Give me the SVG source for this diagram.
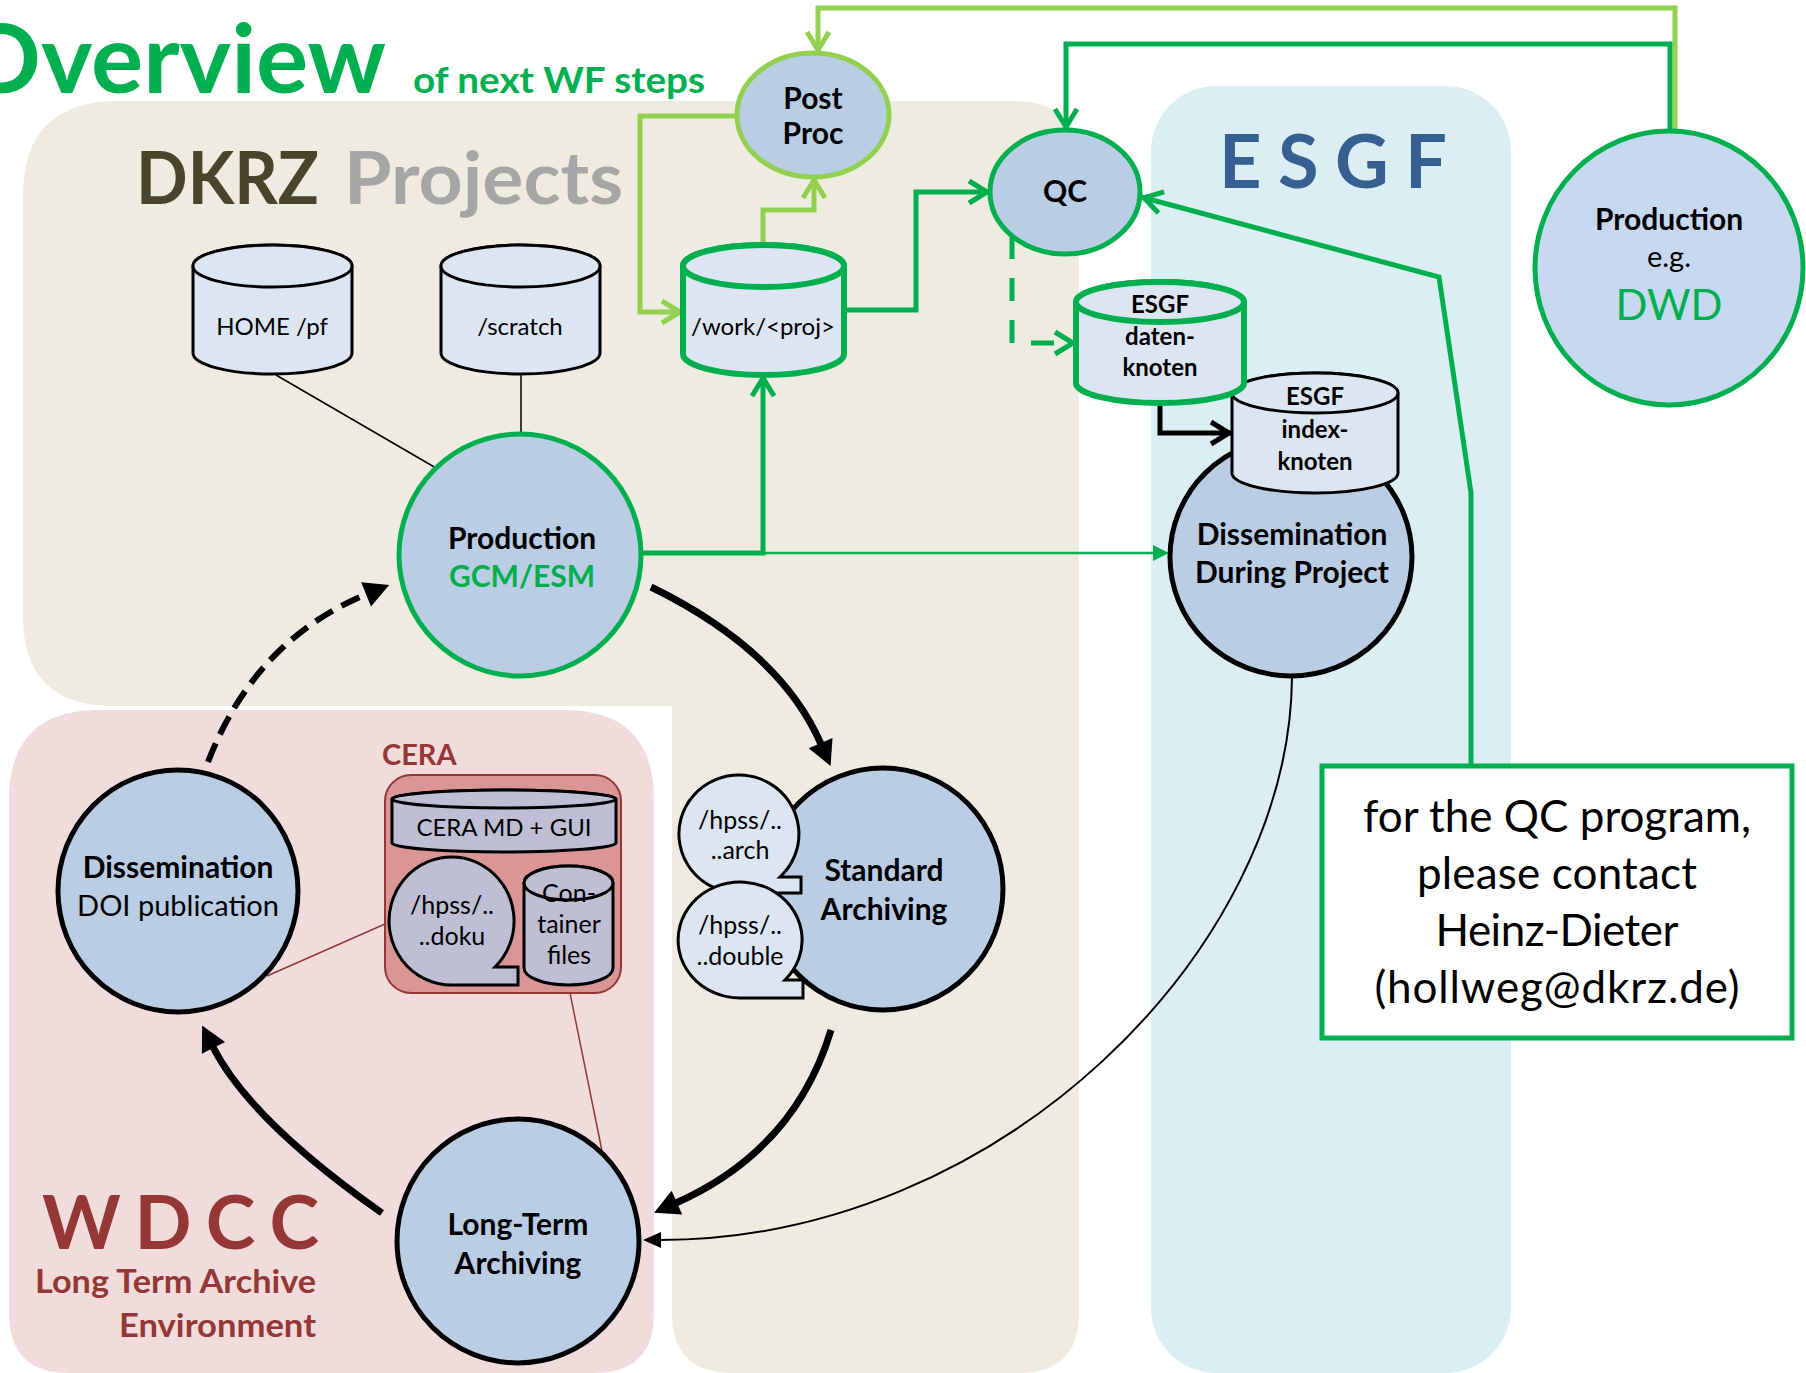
<svg xmlns="http://www.w3.org/2000/svg" width="1806" height="1373" viewBox="0 0 1806 1373">
<defs>
<style>
text{font-family:Lato,"Liberation Sans",sans-serif;}
.b{font-weight:bold;}
.c{text-anchor:middle;}
.lbl{font-size:30px;font-weight:bold;fill:#000;text-anchor:middle;}
.cyl{font-size:24px;fill:#000;text-anchor:middle;}
.hp{font-size:25px;fill:#000;text-anchor:middle;}
.node{fill:#B9CDE5;stroke-width:5;}
.gs{stroke:#00B050;}
.lgs{stroke:#92D050;}
.ks{stroke:#000;}
.cylf{fill:#DCE6F2;stroke:#000;stroke-width:3;}
.cylg{fill:#DCE6F2;stroke:#00B050;stroke-width:6;}
.bub{fill:#DCE6F2;stroke:#000;stroke-width:3;}
.cera{fill:#BEBFD4;stroke:#000;stroke-width:3;}
.red{fill:#953735;}
.info{font-size:44px;fill:#000;text-anchor:middle;}
</style>
<marker id="chevG" viewBox="-24 -16 32 32" refX="3" refY="0" markerWidth="32" markerHeight="32" markerUnits="userSpaceOnUse" orient="auto"><path d="M-18,-11 L0,0 L-18,11" fill="none" stroke="#00B050" stroke-width="5"/></marker>
<marker id="chevLG" viewBox="-24 -16 32 32" refX="3" refY="0" markerWidth="32" markerHeight="32" markerUnits="userSpaceOnUse" orient="auto"><path d="M-18,-11 L0,0 L-18,11" fill="none" stroke="#92D050" stroke-width="5"/></marker>
<marker id="chevK" viewBox="-24 -16 32 32" refX="3" refY="0" markerWidth="32" markerHeight="32" markerUnits="userSpaceOnUse" orient="auto"><path d="M-18,-11 L0,0 L-18,11" fill="none" stroke="#000" stroke-width="5"/></marker>
<marker id="triG" viewBox="-2 -10 20 20" refX="1" refY="0" markerWidth="20" markerHeight="20" markerUnits="userSpaceOnUse" orient="auto"><path d="M0,-8 L16,0 L0,8 Z" fill="#00B050"/></marker>
<marker id="triK" viewBox="-2 -16 30 32" refX="1" refY="0" markerWidth="30" markerHeight="32" markerUnits="userSpaceOnUse" orient="auto"><path d="M0,-13 L25,0 L0,13 Z" fill="#000"/></marker>
<marker id="triKs" viewBox="-2 -10 22 20" refX="1" refY="0" markerWidth="22" markerHeight="20" markerUnits="userSpaceOnUse" orient="auto"><path d="M0,-8 L18,0 L0,8 Z" fill="#000"/></marker>
</defs>

<!-- background regions -->
<g id="regions">
<path id="dkrz-region" d="M23,196 Q23,101 118,101 L1014,101 Q1079,101 1079,166 L1079,1313 Q1079,1373 1019,1373 L732,1373 Q672,1373 672,1313 L672,706 L113,706 Q23,706 23,616 Z" fill="#EEECE1"/>
<path id="wdcc-region" d="M9,800 Q9,710 99,710 L564,710 Q654,710 654,800 L654,1313 Q654,1373 594,1373 L69,1373 Q9,1373 9,1313 Z" fill="#F2DCDB"/>
<rect id="esgf-region" x="1151" y="86" width="360" height="1287" rx="65" ry="65" fill="#DBEEF3"/>
</g>

<!-- titles -->
<g id="titles">
<text x="-38" y="93" font-size="96" class="b" fill="#00B050" textLength="424" lengthAdjust="spacingAndGlyphs">Overview</text>
<text x="413" y="93" font-size="36" class="b" fill="#00B050" textLength="292" lengthAdjust="spacingAndGlyphs">of next WF steps</text>
<text x="136" y="204" font-size="72" class="b" fill="#4A452A" textLength="183" lengthAdjust="spacingAndGlyphs">DKRZ</text>
<text x="344" y="204" font-size="72" class="b" fill="#A6A6A6" textLength="279" lengthAdjust="spacingAndGlyphs">Projects</text>
<text x="1219" y="188" font-size="74" class="b" fill="#376092" textLength="228">E S G F</text>
<text x="42" y="1249" font-size="75" class="b red" textLength="277">W D C C</text>
<text x="316" y="1293" font-size="32" class="b red" text-anchor="end" textLength="281" lengthAdjust="spacingAndGlyphs">Long Term Archive</text>
<text x="316" y="1337" font-size="32" class="b red" text-anchor="end" textLength="197" lengthAdjust="spacingAndGlyphs">Environment</text>
<text x="382" y="765" font-size="29" class="b red">CERA</text>
</g>

<!-- connectors -->
<g id="connectors" fill="none">
<path d="M1675,131 L1675,8 L818,8 L818,53" stroke="#92D050" stroke-width="5" marker-end="url(#chevLG)"/>
<path d="M1670,131 L1670,44 L1066,44 L1066,130" stroke="#00B050" stroke-width="5" marker-end="url(#chevG)"/>
<path d="M737,116 L640,116 L640,312 L683,312" stroke="#92D050" stroke-width="5" marker-end="url(#chevLG)"/>
<path d="M763,245 L763,210 L814,210 L814,177" stroke="#92D050" stroke-width="5" marker-end="url(#chevLG)"/>
<path d="M844,310 L916,310 L916,192 L990,192" stroke="#00B050" stroke-width="5" marker-end="url(#chevG)"/>
<path d="M642,553 L763,553 L763,375" stroke="#00B050" stroke-width="5" marker-end="url(#chevG)"/>
<path d="M763,553 L1154,553" stroke="#00B050" stroke-width="2.5" marker-end="url(#triG)"/>
<path d="M1012,236 L1012,343 L1076,343" stroke="#00B050" stroke-width="5" stroke-dasharray="23 19" marker-end="url(#chevG)"/>
<path d="M1471,766 L1471,493 L1439,277 L1141,197" stroke="#00B050" stroke-width="5" marker-end="url(#chevG)"/>
<path d="M1160,403 L1160,433 L1232,433" stroke="#000" stroke-width="5" marker-end="url(#chevK)"/>
<path d="M276,375 L436,468" stroke="#000" stroke-width="1.5"/>
<path d="M521,375 L521,433" stroke="#000" stroke-width="1.5"/>
<path d="M267,976 L385,924" stroke="#953735" stroke-width="1.5"/>
<path d="M570,993 L602,1151" stroke="#953735" stroke-width="1.5"/>
<path d="M651,587 Q780,650 821,744" stroke="#000" stroke-width="7" marker-end="url(#triK)"/>
<path d="M831,1030 Q795,1150 676,1203" stroke="#000" stroke-width="7" marker-end="url(#triK)"/>
<path d="M382,1213 Q250,1120 213,1047" stroke="#000" stroke-width="7" marker-end="url(#triK)"/>
<path d="M208,762 Q255,640 367,594" stroke="#000" stroke-width="6" stroke-dasharray="20 10" marker-end="url(#triK)"/>
<path d="M1292,677 C1290,950 1000,1240 660,1240" stroke="#000" stroke-width="2" marker-end="url(#triKs)"/>
</g>

<!-- nodes -->
<g id="home-pf">
<path class="cylf" d="M193,266 A79.5,21 0 0 1 352,266 L352,353 A79.5,21 0 0 1 193,353 Z"/>
<ellipse class="cylf" cx="272.5" cy="266" rx="79.5" ry="21"/>
<text class="cyl" x="272" y="335">HOME /pf</text>
</g>
<g id="scratch">
<path class="cylf" d="M441,266 A79.5,21 0 0 1 600,266 L600,353 A79.5,21 0 0 1 441,353 Z"/>
<ellipse class="cylf" cx="520.5" cy="266" rx="79.5" ry="21"/>
<text class="cyl" x="520" y="335">/scratch</text>
</g>
<g id="work-proj">
<path class="cylg" d="M683,266 A80.5,21 0 0 1 844,266 L844,354 A80.5,21 0 0 1 683,354 Z"/>
<ellipse class="cylg" cx="763.5" cy="266" rx="80.5" ry="21"/>
<text class="cyl" x="763" y="335">/work/&lt;proj&gt;</text>
</g>
<g id="post-proc">
<ellipse class="node lgs" cx="813" cy="115" rx="76" ry="62"/>
<text class="lbl" x="813" y="109">Post</text>
<text class="lbl" x="813" y="144">Proc</text>
</g>
<g id="qc">
<ellipse class="node gs" cx="1065" cy="192" rx="75" ry="62"/>
<text class="lbl" x="1065" y="202" font-size="28">QC</text>
</g>
<g id="production-dwd">
<ellipse class="gs" cx="1669" cy="268" rx="134" ry="137" fill="#C6D9F1" stroke-width="5"/>
<text class="lbl" x="1669" y="230">Production</text>
<text class="c" x="1669" y="267" font-size="29">e.g.</text>
<text class="c" x="1669" y="320" font-size="42" fill="#00B050">DWD</text>
</g>
<g id="production-gcm">
<ellipse class="node gs" cx="520" cy="555" rx="121" ry="121"/>
<text class="lbl" x="522" y="549">Production</text>
<text class="lbl" x="522" y="587" style="fill:#00B050">GCM/ESM</text>
</g>
<g id="dissemination-during-project">
<ellipse class="node ks" cx="1291" cy="557" rx="121" ry="119"/>
<text class="lbl" x="1292" y="545">Dissemination</text>
<text class="lbl" x="1292" y="583">During Project</text>
</g>
<g id="esgf-index-knoten">
<path class="cylf" d="M1232,393 A83,20 0 0 1 1398,393 L1398,473 A83,20 0 0 1 1232,473 Z"/>
<ellipse class="cylf" cx="1315" cy="393" rx="83" ry="20"/>
<text class="cyl b" x="1315" y="405">ESGF</text>
<text class="cyl b" x="1315" y="438">index-</text>
<text class="cyl b" x="1315" y="470">knoten</text>
</g>
<g id="esgf-daten-knoten">
<path class="cylg" d="M1076,302 A84,20 0 0 1 1244,302 L1244,383 A84,20 0 0 1 1076,383 Z"/>
<ellipse class="cylg" cx="1160" cy="302" rx="84" ry="20"/>
<text class="cyl b" x="1160" y="313">ESGF</text>
<text class="cyl b" x="1160" y="345">daten-</text>
<text class="cyl b" x="1160" y="376">knoten</text>
</g>
<g id="standard-archiving">
<ellipse class="node ks" cx="883" cy="889" rx="120" ry="121"/>
<text class="lbl" x="884" y="881">Standard</text>
<text class="lbl" x="884" y="920">Archiving</text>
</g>
<g id="hpss-arch">
<path class="bub" d="M740,893 A60,59 0 1 1 780,877 L801,877 L801,893 Z"/>
<text class="hp" x="740" y="829">/hpss/..</text>
<text class="hp" x="740" y="859">..arch</text>
</g>
<g id="hpss-double">
<path class="bub" d="M740,998 A62,58 0 1 1 785,980 L803,980 L803,998 Z"/>
<text class="hp" x="740" y="934">/hpss/..</text>
<text class="hp" x="740" y="965">..double</text>
</g>
<g id="cera">
<rect x="385" y="775" width="236" height="218" rx="26" ry="26" fill="#D99694" stroke="#953735" stroke-width="2"/>
<path class="cera" d="M392,799 A112,9 0 0 1 616,799 L616,843 A112,9 0 0 1 392,843 Z"/>
<ellipse class="cera" cx="504" cy="799" rx="112" ry="9"/>
<text class="cyl" x="504" y="836" font-size="25">CERA MD + GUI</text>
<path class="cera" d="M451.5,985 A62.5,64 0 1 1 495,967 L518,967 L518,985 Z"/>
<text class="hp" x="452" y="914">/hpss/..</text>
<text class="hp" x="452" y="945">..doku</text>
<path class="cera" d="M524,883 A44.5,17 0 0 1 613,883 L613,968 A44.5,17 0 0 1 524,968 Z"/>
<ellipse class="cera" cx="568.5" cy="883" rx="44.5" ry="17"/>
<text class="hp" x="569" y="902">Con-</text>
<text class="hp" x="569" y="933">tainer</text>
<text class="hp" x="569" y="964">files</text>
</g>
<g id="dissemination-doi">
<ellipse class="node ks" cx="178" cy="891" rx="120" ry="121"/>
<text class="lbl" x="178" y="878">Dissemination</text>
<text class="c" x="178" y="916" font-size="29">DOI publication</text>
</g>
<g id="long-term-archiving">
<ellipse class="node ks" cx="518" cy="1241" rx="121" ry="122"/>
<text class="lbl" x="518" y="1235">Long-Term</text>
<text class="lbl" x="518" y="1274">Archiving</text>
</g>
<g id="qc-contact">
<rect x="1322" y="766" width="470" height="272" fill="#FFFFFF" stroke="#00B050" stroke-width="5"/>
<text class="info" x="1557" y="832" textLength="388">for the QC program,</text>
<text class="info" x="1557" y="889" textLength="280">please contact</text>
<text class="info" x="1557" y="946" textLength="243">Heinz-Dieter</text>
<text class="info" x="1557" y="1003" textLength="365">(hollweg@dkrz.de)</text>
</g>
</svg>
